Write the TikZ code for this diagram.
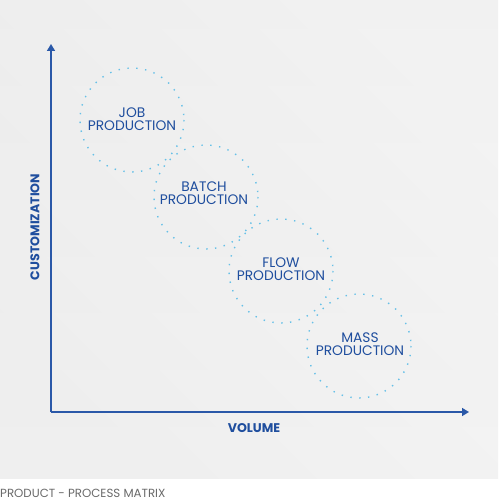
\documentclass[tikz,border=0pt]{standalone}
\usepackage{fontspec}
\setmainfont{Poppins}
\usetikzlibrary{arrows.meta}
\definecolor{axisblue}{HTML}{2A58A8}
\definecolor{txtblue}{HTML}{1F4E9E}
\definecolor{dotblue}{HTML}{4FB8E6}
\definecolor{bgA}{HTML}{EBEBEB}
\definecolor{bgB}{HTML}{F9F9F9}
\definecolor{capgray}{HTML}{6A6A6A}
\tikzset{
  axis/.style={draw=axisblue, line width=1.6pt, -{Triangle[length=7pt,width=8pt]}},
  ring/.style={draw=dotblue, line width=1.4pt, dash pattern=on 1.4pt off 7.5pt, opacity=0.85},
  label/.style={text=txtblue, font=\fontsize{13.8}{14}\selectfont, align=center, inner sep=0pt},
  axlabel/.style={text=txtblue, font=\bfseries\fontsize{12.6}{13}\selectfont, inner sep=0pt},
}
\begin{document}
\begin{tikzpicture}[x=1pt,y=-1pt]
\useasboundingbox (0,0) rectangle (498,500);
\fill[white] (0,0) rectangle (498,500);
\shade[left color=bgA, right color=bgB, shading angle=135] (0,0) rectangle (498,478);
\shade[top color=bgA, bottom color=bgA!40!bgB, opacity=0.5] (0,0) rectangle (498,478);
% axes
\coordinate (o) at (51,412);
\coordinate (ytip) at (51,44);
\coordinate (xtip) at (469,412);
\draw[axis] (o) -- (ytip);
\draw[axis] (o) -- (xtip);
% circles
\foreach \n/\cx/\cy in {job/132/120, batch/206/197, flow/281/271, mass/359/346}{
  \draw[ring] (\cx,\cy) circle (52);
}
\node[label] (job) at (132,119) {JOB\\[-1pt]PRODUCTION};
\node[label] (batch) at (204,193) {BATCH\\[-1pt]PRODUCTION};
\node[label] (flow) at (281,269) {FLOW\\[-1pt]PRODUCTION};
\node[label] (mass) at (360,344) {MASS\\[-1pt]PRODUCTION};
% axis labels
\node[axlabel, rotate=90] (cust) at (35,227) {CUSTOMIZATION};
\node[axlabel] (vol) at (254,428) {VOLUME};
% caption
\node[text=capgray, font=\fontsize{11.8}{12}\selectfont, anchor=west, inner sep=0pt] (cap) at (0,493) {PRODUCT - PROCESS MATRIX};
\end{tikzpicture}
\end{document}
